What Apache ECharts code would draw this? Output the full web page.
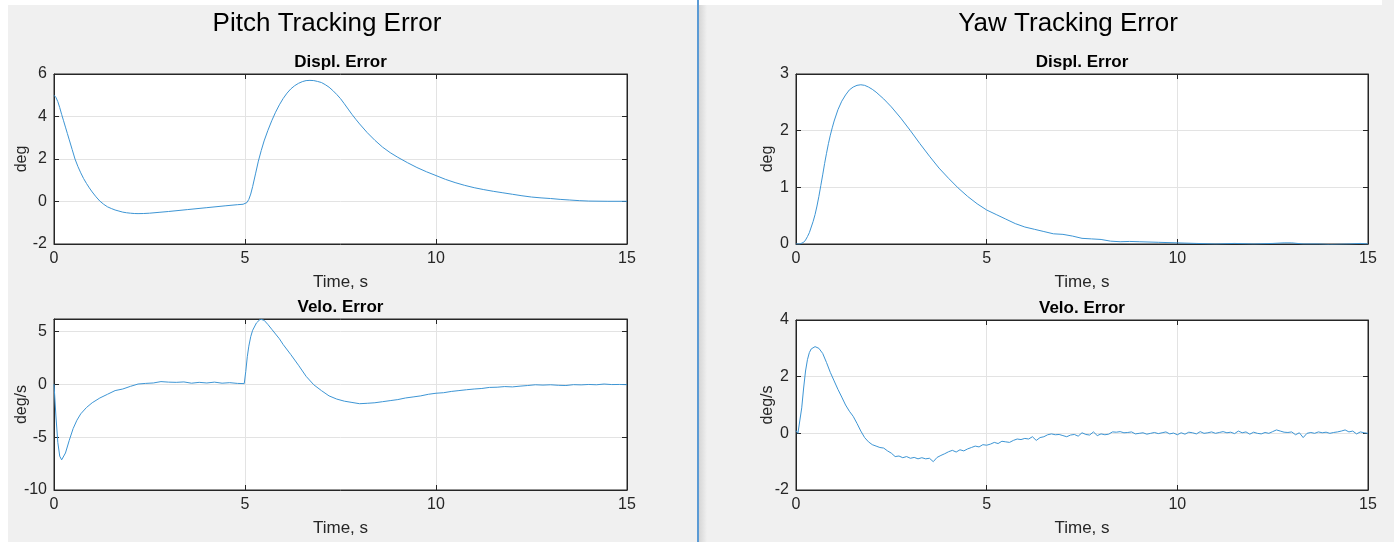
<!DOCTYPE html>
<html>
<head>
<meta charset="utf-8">
<script src="https://cdn.jsdelivr.net/npm/echarts@6/dist/echarts.min.js"></script>
<style>
  html, body { margin: 0; padding: 0; background: #fff; }
  #main { width: 1394px; height: 542px; }
</style>
</head>
<body>
<div id="main"></div>
<script>
// pitch displacement error (deg)
const pitchDispT = [0, 0.05, 0.1, 0.15, 0.2, 0.25, 0.3, 0.35, 0.4, 0.475, 0.55, 0.625, 0.7, 0.775, 0.85, 0.925, 1.0, 1.1, 1.2, 1.3, 1.4, 1.5, 1.6, 1.7, 1.8, 1.9,
  2.0, 2.1, 2.2, 2.35, 2.5, 2.75, 3.0, 3.5, 4.0, 4.5, 4.8, 4.95,
  5.0, 5.05, 5.1, 5.15, 5.2, 5.275, 5.35, 5.425, 5.5, 5.6, 5.7, 5.8, 5.9, 6.0, 6.1, 6.2, 6.3, 6.4, 6.5, 6.6, 6.7, 6.8, 6.9,
  7.0, 7.1, 7.2, 7.3, 7.4, 7.5, 7.6, 7.7, 7.8, 7.9, 8.0, 8.2, 8.4, 8.6, 8.8, 9.0, 9.25, 9.5, 9.75,
  10, 10.25, 10.5, 10.75, 11, 11.25, 11.5, 11.75, 12, 12.25, 12.5, 12.75, 13, 13.25, 13.5, 13.75, 14, 14.5, 15];
const pitchDispV = [5.0, 4.9, 4.7, 4.42, 4.1, 3.8, 3.5, 3.2, 2.9, 2.45, 2.0, 1.65, 1.35, 1.08, 0.85, 0.64, 0.45, 0.22, 0.02, -0.13, -0.25, -0.33, -0.4, -0.45, -0.5, -0.53,
  -0.55, -0.565, -0.57, -0.565, -0.55, -0.51, -0.47, -0.38, -0.29, -0.2, -0.15, -0.13,
  -0.12, -0.05, 0.1, 0.35, 0.7, 1.3, 1.9, 2.4, 2.85, 3.35, 3.8, 4.2, 4.55, 4.85, 5.1, 5.3, 5.45, 5.56, 5.64, 5.69, 5.7, 5.69, 5.65,
  5.6, 5.5, 5.38, 5.22, 5.04, 4.84, 4.6, 4.35, 4.1, 3.87, 3.65, 3.24, 2.88, 2.56, 2.3, 2.08, 1.83, 1.6, 1.4,
  1.22, 1.04, 0.89, 0.76, 0.65, 0.56, 0.48, 0.41, 0.34, 0.27, 0.21, 0.17, 0.14, 0.1, 0.07, 0.04, 0.02, 0.01, 0.01];

// pitch velocity error (deg/s)
const pitchVeloT = [0, 0.05, 0.1, 0.15, 0.2, 0.25, 0.3, 0.4, 0.5, 0.6, 0.7, 0.85, 1.0, 1.2, 1.4, 1.6, 1.8, 2.0, 2.2, 2.4, 2.6, 2.8, 3.0, 3.2, 3.4, 3.6, 3.8, 4.0, 4.2, 4.4, 4.6, 4.8, 4.98,
  5.02, 5.06, 5.1, 5.15, 5.2, 5.3, 5.4, 5.5, 5.6, 5.7, 5.8, 5.9, 6.0, 6.2, 6.4, 6.6, 6.8, 7.0, 7.2, 7.4, 7.6, 7.8, 8.0, 8.2, 8.4, 8.6, 8.8, 9.0, 9.2, 9.4, 9.6, 9.8,
  10.0, 10.2, 10.4, 10.6, 10.8, 11.0, 11.2, 11.4, 11.6, 11.8, 12.0, 12.2, 12.4, 12.6, 12.8, 13.0, 13.2, 13.4, 13.6, 13.8, 14.0, 14.2, 14.4, 14.6, 14.8, 15.0];
const pitchVeloV = [0, -3.0, -5.5, -6.8, -7.15, -7.0, -6.5, -5.3, -4.2, -3.4, -2.8, -2.2, -1.75, -1.3, -0.95, -0.6, -0.45, -0.2, 0.02, 0.08, 0.12, 0.25, 0.2, 0.18, 0.22, 0.1, 0.18, 0.12, 0.2, 0.1, 0.15, 0.08, 0.06,
  1.2, 2.6, 3.6, 4.5, 5.1, 5.8, 6.15, 6.05, 5.65, 5.2, 4.75, 4.3, 3.75, 2.8, 1.8, 0.75, -0.05, -0.6, -1.1, -1.4, -1.6, -1.72, -1.84, -1.8, -1.75, -1.65, -1.55, -1.45, -1.3, -1.2, -1.1, -0.95,
  -0.85, -0.8, -0.68, -0.6, -0.52, -0.45, -0.4, -0.3, -0.28, -0.22, -0.25, -0.18, -0.12, -0.05, -0.08, -0.05, -0.1, -0.12, -0.04, -0.06, -0.02, -0.05, 0.02, -0.03, -0.02, -0.04];

// yaw displacement error (deg)
const yawDispT = [0, 0.1, 0.15, 0.2, 0.25, 0.3, 0.35, 0.4, 0.45, 0.5, 0.55, 0.6, 0.65, 0.7, 0.75, 0.8, 0.85, 0.9, 0.95, 1.0, 1.1, 1.2, 1.3, 1.4, 1.5, 1.6, 1.7, 1.8, 1.9,
  2.0, 2.1, 2.2, 2.3, 2.4, 2.5, 2.75, 3.0, 3.25, 3.5, 3.75, 4.0, 4.25, 4.5, 4.75,
  5.0, 5.25, 5.5, 5.75, 6.0, 6.25, 6.5, 6.75, 7.0, 7.25, 7.5, 7.75, 8.0, 8.25, 8.5, 8.75, 9.0, 9.5, 10, 10.5, 11, 11.5, 12, 12.5, 12.8, 13, 13.3, 13.7, 14, 14.5, 14.8, 15];
const yawDispV = [0, 0.0, 0.01, 0.03, 0.07, 0.13, 0.2, 0.3, 0.4, 0.52, 0.67, 0.84, 1.03, 1.22, 1.42, 1.6, 1.77, 1.92, 2.05, 2.17, 2.37, 2.52, 2.63, 2.72, 2.77, 2.8, 2.81, 2.8, 2.77,
  2.73, 2.68, 2.62, 2.56, 2.49, 2.42, 2.22, 2.0, 1.77, 1.55, 1.34, 1.16, 0.99, 0.84, 0.71,
  0.6, 0.52, 0.44, 0.36, 0.3, 0.26, 0.22, 0.18, 0.17, 0.14, 0.1, 0.09, 0.08, 0.05, 0.04, 0.045, 0.04, 0.03, 0.02, 0.01, 0.0, 0.01, 0.0, 0.01, 0.02, 0.02, 0.0, 0.0, -0.01, 0.0, 0.01, 0.0];

// yaw velocity error (deg/s)
const yawVeloT = [0, 0.05, 0.1, 0.15, 0.2, 0.25, 0.3, 0.35, 0.4, 0.45, 0.5, 0.55, 0.6, 0.7, 0.8, 0.9, 1.0, 1.1, 1.2, 1.3, 1.4, 1.5, 1.6, 1.7, 1.8, 1.9,
  2.0, 2.1, 2.2, 2.3, 2.4, 2.5, 2.6, 2.7, 2.8, 2.9, 3.0, 3.1, 3.2, 3.3, 3.4, 3.5, 3.6, 3.7, 3.8, 3.9,
  4.0, 4.1, 4.2, 4.3, 4.4, 4.5, 4.6, 4.7, 4.8, 4.9, 5.0, 5.1, 5.2, 5.3, 5.4, 5.5, 5.6, 5.7, 5.8, 5.9,
  6.0, 6.1, 6.2, 6.3, 6.4, 6.5, 6.6, 6.7, 6.8, 6.9, 7.0, 7.1, 7.2, 7.3, 7.4, 7.5, 7.6, 7.7, 7.8, 7.9,
  8.0, 8.1, 8.2, 8.3, 8.4, 8.5, 8.6, 8.7, 8.8, 8.9, 9.0, 9.1, 9.2, 9.3, 9.4, 9.5, 9.6, 9.7, 9.8, 9.9,
  10.0, 10.1, 10.2, 10.3, 10.4, 10.5, 10.6, 10.7, 10.8, 10.9, 11.0, 11.1, 11.2, 11.3, 11.4, 11.5, 11.6, 11.7, 11.8, 11.9,
  12.0, 12.1, 12.2, 12.3, 12.4, 12.5, 12.6, 12.7, 12.8, 12.9, 13.0, 13.1, 13.2, 13.3, 13.4, 13.5, 13.6, 13.7, 13.8, 13.9,
  14.0, 14.1, 14.2, 14.3, 14.4, 14.5, 14.6, 14.7, 14.8, 14.9, 15.0];
const yawVeloV = [0.1, 0.0, 0.05, 0.9, 1.6, 2.2, 2.6, 2.85, 2.98, 3.05, 3.06, 3.04, 3.0, 2.82, 2.5, 2.15, 1.85, 1.55, 1.28, 1.0, 0.78, 0.6, 0.35, 0.08, -0.15, -0.3,
  -0.4, -0.45, -0.5, -0.52, -0.62, -0.7, -0.82, -0.8, -0.86, -0.82, -0.88, -0.85, -0.9, -0.86, -0.9, -0.88, -1.0, -0.85, -0.78, -0.72,
  -0.65, -0.6, -0.66, -0.58, -0.62, -0.55, -0.5, -0.45, -0.48, -0.4, -0.42, -0.38, -0.32, -0.36, -0.28, -0.3, -0.32, -0.25, -0.2, -0.22,
  -0.18, -0.2, -0.12, -0.25, -0.15, -0.12, -0.05, -0.02, -0.05, -0.04, -0.08, -0.12, -0.06, -0.04, -0.1, 0.02, -0.04, -0.06, 0.05, -0.08,
  -0.02, -0.05, -0.03, 0.05, 0.04, 0.06, 0.02, 0.03, 0.05, -0.02, 0.0, 0.02, -0.03, 0.0, 0.03, -0.01, 0.02, 0.05, -0.02, 0.01,
  -0.05, 0.02, -0.03, 0.04, 0.02, -0.02, 0.06, 0.0, 0.02, 0.05, 0.0, 0.03, 0.06, 0.02, 0.04, -0.01, 0.08, 0.02, 0.05, -0.03,
  0.04, 0.0, -0.02, 0.03, 0.0, 0.06, 0.12, 0.08, 0.04, 0.03, 0.05, -0.05, 0.02, -0.15, 0.0, 0.03, 0.0, 0.05, 0.02, 0.04,
  0.0, 0.03, 0.05, 0.08, 0.12, 0.05, 0.08, -0.02, 0.05, 0.02, 0.0];

const xTicks = [0, 5, 10, 15];
const panels = [
  { sub: 'Displ. Error', t: pitchDispT, v: pitchDispV, ymin: -2, ymax: 6, step: 2, unit: 'deg', gap: 24 },
  { sub: 'Velo. Error', t: pitchVeloT, v: pitchVeloV, ymin: -10, ymax: 6.17, step: 5, unit: 'deg/s', gap: 24 },
  { sub: 'Displ. Error', t: yawDispT, v: yawDispV, ymin: 0, ymax: 3, step: 1, unit: 'deg', gap: 20 },
  { sub: 'Velo. Error', t: yawVeloT, v: yawVeloV, ymin: -2, ymax: 4, step: 2, unit: 'deg/s', gap: 20 }
];

const grids = [
  { left: 54, top: 74, width: 573, height: 170 },
  { left: 54, top: 319, width: 573, height: 171 },
  { left: 796, top: 74, width: 572, height: 170 },
  { left: 796, top: 320, width: 572, height: 170 }
];

const ink = '#262626';
const font = 'Liberation Sans, Arial, Helvetica, sans-serif';
const lineColor = '#3d95d4';

const chart = echarts.init(document.getElementById('main'), null, { renderer: 'canvas' });

const xAxis = [], yAxis = [], series = [], titles = [];

titles.push({ text: 'Pitch Tracking Error', left: 327, top: 24, textAlign: 'center', textVerticalAlign: 'middle', padding: 0,
  textStyle: { fontFamily: font, fontSize: 26, fontWeight: 'normal', color: '#000' } });
titles.push({ text: 'Yaw Tracking Error', left: 1068, top: 24, textAlign: 'center', textVerticalAlign: 'middle', padding: 0,
  textStyle: { fontFamily: font, fontSize: 26, fontWeight: 'normal', color: '#000' } });

panels.forEach((p, i) => {
  const g = grids[i];
  titles.push({ text: p.sub, left: g.left + g.width / 2, top: g.top - 12, textAlign: 'center', textVerticalAlign: 'middle', padding: 0,
    textStyle: { fontFamily: font, fontSize: 17, fontWeight: 'bold', color: '#000' } });

  const xBase = {
    type: 'value', gridIndex: i, min: 0, max: 15, interval: 5,
    axisLine: { show: true, onZero: false, lineStyle: { color: ink, width: 1 } },
    axisTick: { show: true, inside: true, length: 5, lineStyle: { color: ink } },
    splitLine: { show: false }
  };
  xAxis.push(Object.assign({}, xBase, {
    position: 'bottom',
    name: 'Time, s', nameLocation: 'middle', nameGap: 30, nameMoveOverlap: false,
    nameTextStyle: { fontFamily: font, fontSize: 17, color: ink },
    axisLabel: { show: true, margin: 7, fontFamily: font, fontSize: 16, color: ink,
      formatter: v => (xTicks.indexOf(v) >= 0 ? String(v) : '') },
    splitLine: { show: true, lineStyle: { color: '#e3e3e3', width: 1 } }
  }));
  xAxis.push(Object.assign({}, xBase, { position: 'top', axisLabel: { show: false } }));

  const yBase = {
    type: 'value', gridIndex: i, min: p.ymin, max: p.ymax, interval: p.step,
    axisLine: { show: true, onZero: false, lineStyle: { color: ink, width: 1 } },
    axisTick: { show: true, inside: true, length: 5, lineStyle: { color: ink } },
    splitLine: { show: false }
  };
  yAxis.push(Object.assign({}, yBase, {
    position: 'left',
    name: p.unit, nameLocation: 'middle', nameGap: p.gap, nameMoveOverlap: false,
    nameTextStyle: { fontFamily: font, fontSize: 16, color: ink },
    axisLabel: { show: true, margin: 7, fontFamily: font, fontSize: 16, color: ink,
      formatter: v => (Math.abs(v / p.step - Math.round(v / p.step)) < 1e-6 ? String(v) : '') },
    splitLine: { show: true, lineStyle: { color: '#e3e3e3', width: 1 } }
  }));
  yAxis.push(Object.assign({}, yBase, { position: 'right', axisLabel: { show: false } }));

  series.push({
    type: 'line', xAxisIndex: i * 2, yAxisIndex: i * 2,
    data: p.t.map((t, k) => [t, p.v[k]]),
    showSymbol: false, symbol: 'none', clip: true,
    lineStyle: { color: lineColor, width: 1 },
    animation: false
  });
});

chart.setOption({
  backgroundColor: '#f0f0f0',
  animation: false,
  title: titles,
  grid: grids.map(g => Object.assign({ show: true, backgroundColor: '#fff', borderColor: ink, borderWidth: 1 }, g)),
  xAxis: xAxis,
  yAxis: yAxis,
  series: series,
  graphic: [
    { type: 'rect', shape: { x: 699, y: 0, width: 8, height: 542 }, silent: true,
      style: { fill: new echarts.graphic.LinearGradient(0, 0, 1, 0, [
        { offset: 0, color: '#d6d6d6' }, { offset: 1, color: '#f0f0f0' }]) } },
    { type: 'rect', shape: { x: 0, y: 0, width: 1382, height: 5 }, style: { fill: '#fff' }, silent: true },
    { type: 'rect', shape: { x: 0, y: 0, width: 8, height: 542 }, style: { fill: '#fff' }, silent: true },
    { type: 'rect', shape: { x: 697, y: 0, width: 2, height: 542 }, style: { fill: '#5b9bd5' }, silent: true }
  ]
});
</script>
</body>
</html>
